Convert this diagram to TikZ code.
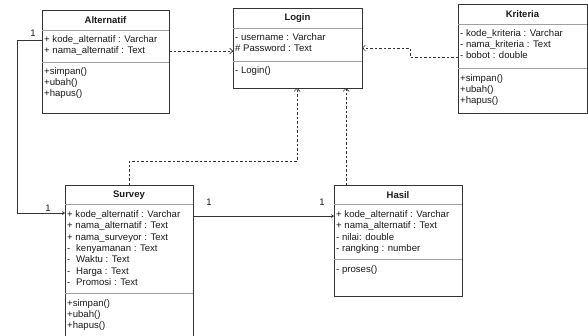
\documentclass[tikz,border=0pt]{standalone}
\usepackage{fontspec}
\setmainfont{Liberation Sans}
\usetikzlibrary{arrows.meta}

\definecolor{boxline}{HTML}{333333}
\definecolor{divline}{HTML}{A0A0A0}
\definecolor{txt}{HTML}{1A1A1A}
\definecolor{wire}{HTML}{333333}

\begin{document}
\begin{tikzpicture}[x=1pt,y=-1pt,
  classbox/.style={draw=boxline, line width=0.8pt, fill=white, rectangle,
    anchor=north west, inner sep=0pt, outer sep=0pt},
  divider/.style={draw=divline, line width=0.7pt},
  ttl/.style={font=\bfseries\fontsize{9.5}{11}\selectfont, text=txt, inner sep=0pt},
  mem/.style={anchor=west, inner sep=0pt, text height=7pt, text depth=2pt,
    font=\fontsize{9.6}{11}\selectfont, text=txt},
  mult/.style={font=\fontsize{9.5}{11}\selectfont, text=txt, inner sep=0pt},
  dep/.style={draw=wire, line width=0.7pt, dash pattern=on 2.5pt off 2pt,
    -{Straight Barb[length=3pt,width=6pt]}},
  assoc/.style={draw=wire, line width=0.8pt,
    -{Straight Barb[length=2pt,width=3pt]}}]
\useasboundingbox (0,0) rectangle (588,335);

% ---------- Alternatif ----------
\node[classbox, minimum width=127pt, minimum height=103pt] (alt) at (42,10) {};
\draw[divider] (42,30) -- (169,30);
\draw[divider] (42,62) -- (169,62);
\node[ttl] (alt-t) at (105.5,20) {Alternatif};
\foreach \t [count=\i] in {+ kode\_alternatif : Varchar, + nama\_alternatif : Text}
  \node[mem, name=alt-a\i] at (44,{40+11*(\i-1)}) {\t};
\foreach \t [count=\i] in {+simpan(), +ubah(), +hapus()}
  \node[mem, name=alt-m\i] at (44,{72+11*(\i-1)}) {\t};

% ---------- Login ----------
\node[classbox, minimum width=129pt, minimum height=80pt] (login) at (233,8) {};
\draw[divider] (233,28) -- (362,28);
\draw[divider] (233,61) -- (362,61);
\node[ttl] (login-t) at (297.5,18) {Login};
\node[mem] (login-a1) at (235,38) {- username : Varchar};
\node[mem] (login-a2) at (235,49) {\# Password : Text};
\node[mem] (login-m1) at (235,71) {- Login()};

% ---------- Kriteria ----------
\node[classbox, minimum width=129pt, minimum height=109pt] (kri) at (458,4) {};
\draw[divider] (458,24) -- (587,24);
\draw[divider] (458,68) -- (587,68);
\node[ttl] (kri-t) at (522.5,14) {Kriteria};
\foreach \t [count=\i] in {- kode\_kriteria : Varchar, - nama\_kriteria : Text, - bobot : double}
  \node[mem, name=kri-a\i] at (460,{33.5+11.3*(\i-1)}) {\t};
\foreach \t [count=\i] in {+simpan(), +ubah(), +hapus()}
  \node[mem, name=kri-m\i] at (460,{79+11*(\i-1)}) {\t};

% ---------- Survey ----------
\node[classbox, minimum width=128pt, minimum height=155pt] (sur) at (65,185) {};
\draw[divider] (65,204) -- (193,204);
\draw[divider] (65,293) -- (193,293);
\node[ttl] (sur-t) at (129,195) {Survey};
\foreach \t [count=\i] in {+ kode\_alternatif : Varchar, + nama\_alternatif : Text,
    + nama\_surveyor : Text, -\hspace{0.6em}kenyamanan : Text, -\hspace{0.6em}Waktu : Text,
    -\hspace{0.6em}Harga : Text, -\hspace{0.6em}Promosi : Text}
  \node[mem, name=sur-a\i] at (67,{215+11.3*(\i-1)}) {\t};
\foreach \t [count=\i] in {+simpan(), +ubah(), +hapus()}
  \node[mem, name=sur-m\i] at (67,{304+11*(\i-1)}) {\t};

% ---------- Hasil ----------
\node[classbox, minimum width=128pt, minimum height=111pt] (has) at (334,185) {};
\draw[divider] (334,204) -- (462,204);
\draw[divider] (334,259) -- (462,259);
\node[ttl] (has-t) at (398,195) {Hasil};
\foreach \t [count=\i] in {+ kode\_alternatif : Varchar, + nama\_alternatif : Text,
    - nilai: double, - rangking : number}
  \node[mem, name=has-a\i] at (336,{215+11.3*(\i-1)}) {\t};
\node[mem] (has-m1) at (336,270) {- proses()};

% ---------- dependencies towards Login ----------
\draw[dep] ([yshift=-41pt]alt.north east) -- ([yshift=-43pt]login.north west);
\draw[dep] ([yshift=-53pt]kri.north west) -- ++(-48,0) -- ++(0,-9)
  -- ([yshift=-40pt]login.north east);
\draw[dep] ([xshift=64pt]sur.north west) -- ++(0,-24) -| ([xshift=64pt]login.south west);
\draw[dep] ([xshift=12pt]has.north west) -- ([xshift=113pt]login.south west);

% ---------- associations ----------
\draw[assoc] ([yshift=-30pt]alt.north west) -- ++(-25,0) |- ([yshift=-28pt]sur.north west);
\draw[assoc] ([yshift=-31pt]sur.north east) -- ([yshift=-31pt]has.north west);

% multiplicities
\node[mult] (m-alt) at (33,33) {1};
\node[mult] (m-sur) at (48,208) {1};
\node[mult] (m-sur2) at (209,202) {1};
\node[mult] (m-has) at (322,202) {1};
\end{tikzpicture}
\end{document}
